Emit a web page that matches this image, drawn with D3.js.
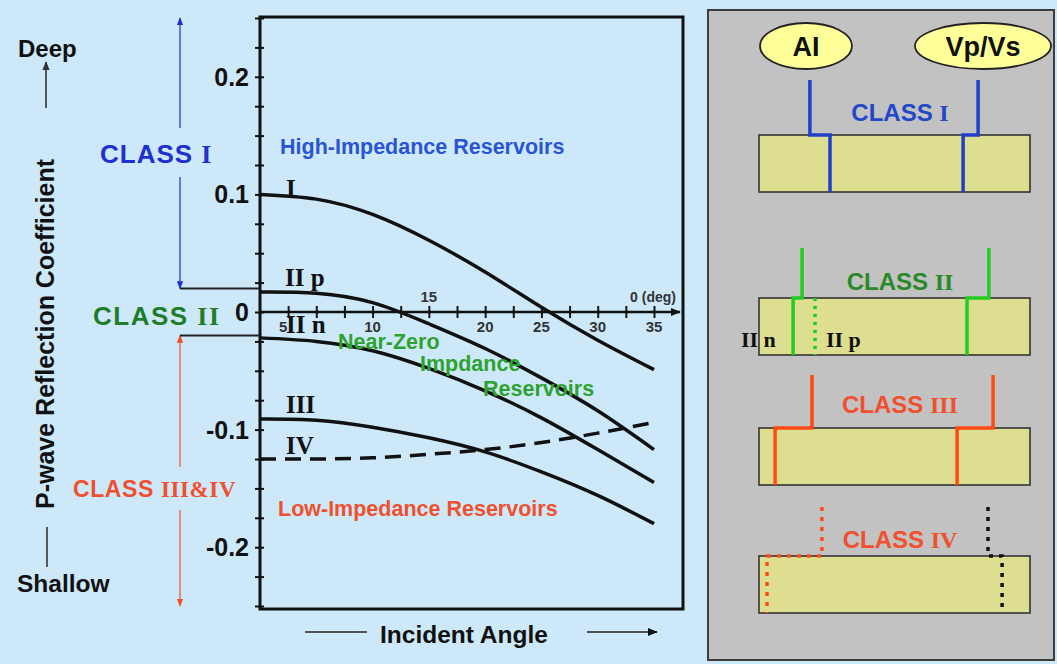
<!DOCTYPE html>
<html>
<head>
<meta charset="utf-8">
<script src="https://cdn.jsdelivr.net/npm/d3@7"></script>
<style>
  body { margin: 0; background: #cde9f9; }
  svg { display: block; }
</style>
</head>
<body>
<script>
const width = 1057, height = 664;

// incident angle (deg) and reflection coefficient per class
const angles = [0, 5, 10, 15, 20, 25, 30, 35];
const classI   = [0.100, 0.096, 0.083, 0.061, 0.034, 0.004, -0.024, -0.049];
const classIIp = [0.017, 0.016, 0.008, -0.010, -0.031, -0.056, -0.084, -0.117];
const classIIn = [-0.022, -0.025, -0.033, -0.048, -0.067, -0.090, -0.117, -0.145];
const classIII = [-0.091, -0.092, -0.098, -0.107, -0.119, -0.136, -0.156, -0.180];
const classIV  = [-0.125, -0.125, -0.124, -0.121, -0.117, -0.111, -0.103, -0.094];

const yTicks = d3.range(-0.25, 0.2501, 0.025);
const yLabels = [0.2, 0.1, 0, -0.1, -0.2];
const xTicks = d3.range(2.5, 35.01, 2.5);
const xLabels = [5, 10, 15, 20, 25, 30, 35];
const classBounds = [0.02, -0.02];

// right panel: log steps (top value, bottom value) for AI and Vp/Vs
const panelClasses = ["I", "II", "III", "IV"];
const aiSteps = [[-0.07, 0.6], [-0.33, -0.63], [0, -1.23], [0.33, -1.5]];
const vpSteps = [[-0.23, -0.73], [0.13, -0.6], [0.27, -0.93], [0.1, 0.57]];
const iipStep = 0.1;

const blue = "#1f2fd0", green = "#1f7d2a", orange = "#f0502e";
const sans = "'Liberation Sans', Arial, sans-serif";
const serif = "'Liberation Serif', 'Times New Roman', serif";

const svg = d3.select("body").append("svg")
  .attr("width", width)
  .attr("height", height);

svg.append("rect").attr("width", width).attr("height", height).attr("fill", "#cde9f9");

const defs = svg.append("defs");
function marker(id, color, size) {
  defs.append("marker")
    .attr("id", id)
    .attr("viewBox", "0 0 10 10")
    .attr("refX", 9).attr("refY", 5)
    .attr("markerWidth", size).attr("markerHeight", size)
    .attr("markerUnits", "userSpaceOnUse")
    .attr("orient", "auto-start-reverse")
    .append("path").attr("d", "M0,1 L10,5 L0,9 Z").attr("fill", color);
}
marker("arBlue", blue, 8);
marker("arRed", orange, 8);
marker("arBlack", "#111", 10);
marker("arGray", "#333", 9);

// ---------- left chart ----------
const x = d3.scaleLinear().domain([0, 35]).range([260, 654]);
const y = d3.scaleLinear().domain([-0.25, 0.25]).range([606, 18]);

const yAxis = d3.axisLeft(y).tickValues(yTicks).tickSize(5).tickFormat("");
const gy = svg.append("g").attr("transform", "translate(260,0)").call(yAxis);
gy.select(".domain").remove();
gy.selectAll("line").attr("x1", 4).attr("x2", -5).attr("stroke", "#111").attr("stroke-width", 2);

svg.append("g").selectAll("text")
  .data(yLabels)
  .join("text")
  .attr("x", 249)
  .attr("y", d => y(d) + 9)
  .attr("text-anchor", "end")
  .attr("font-family", sans).attr("font-weight", "bold").attr("font-size", 25)
  .attr("fill", "#111")
  .text(d => d === 0 ? "0" : d3.format(".1f")(d).replace("−", "-"));

// x axis through zero
const xAxis = d3.axisBottom(x).tickValues(xTicks).tickSize(6).tickFormat("");
const gx = svg.append("g").attr("transform", `translate(0,${y(0)})`).call(xAxis);
gx.select(".domain").remove();
gx.selectAll("line").attr("y1", -6).attr("y2", 6).attr("stroke", "#111").attr("stroke-width", 2);
svg.append("line")
  .attr("x1", x(0)).attr("x2", 680).attr("y1", y(0)).attr("y2", y(0))
  .attr("stroke", "#111").attr("stroke-width", 2.5).attr("marker-end", "url(#arBlack)");

svg.append("g").selectAll("text")
  .data(xLabels)
  .join("text")
  .attr("x", d => d === 5 ? x(d) - 29 : x(d))
  .attr("y", d => d === 15 ? y(0) - 10 : y(0) + 20)
  .attr("text-anchor", d => d === 5 ? "end" : "middle")
  .attr("font-family", sans).attr("font-weight", "bold").attr("font-size", 15)
  .attr("fill", "#333")
  .text(d => d);
svg.append("text").attr("x", 676).attr("y", y(0) - 10).attr("text-anchor", "end")
  .attr("font-family", sans).attr("font-weight", "bold").attr("font-size", 14)
  .attr("fill", "#333").text("0 (deg)");

// curves
const line = d3.line()
  .x((d, i) => x(angles[i]))
  .y(d => y(d))
  .curve(d3.curveNatural);

const curves = [
  { v: classI, dash: null },
  { v: classIIp, dash: null },
  { v: classIIn, dash: null },
  { v: classIII, dash: null },
  { v: classIV, dash: "16 9" }
];
svg.append("g").selectAll("path")
  .data(curves)
  .join("path")
  .attr("d", d => line(d.v))
  .attr("fill", "none")
  .attr("stroke", "#111")
  .attr("stroke-width", 3.5)
  .attr("stroke-dasharray", d => d.dash);

// frame
svg.append("rect")
  .attr("x", 260).attr("y", 17).attr("width", 423).attr("height", 592)
  .attr("fill", "none").attr("stroke", "#111").attr("stroke-width", 3);

// curve labels
const numerals = [
  { t: "I", x: 286, y: 197 },
  { t: "II p", x: 285, y: 286 },
  { t: "II n", x: 286, y: 333 },
  { t: "III", x: 286, y: 413 },
  { t: "IV", x: 286, y: 454 }
];
svg.append("g").selectAll("text")
  .data(numerals)
  .join("text")
  .attr("x", d => d.x).attr("y", d => d.y)
  .attr("font-family", serif).attr("font-weight", "bold").attr("font-size", 25)
  .attr("fill", "#111")
  .text(d => d.t);

function label(t, xx, yy, color, size) {
  return svg.append("text").attr("x", xx).attr("y", yy)
    .attr("font-family", sans).attr("font-weight", "bold").attr("font-size", size)
    .attr("fill", color).text(t);
}
label("High-Impedance Reservoirs", 280, 154, "#2a55d2", 21.5);
label("Near-Zero", 338, 348.5, "#2ea22e", 21.5);
label("Impdance", 420, 371, "#2ea22e", 21.5);
label("Reservoirs", 483, 396, "#2ea22e", 21.5);
label("Low-Impedance Reservoirs", 278, 516, "#f0502e", 21.5);
label("Incident Angle", 380, 643, "#111", 24.5);

svg.append("line").attr("x1", 305).attr("x2", 367).attr("y1", 632).attr("y2", 632)
  .attr("stroke", "#222").attr("stroke-width", 1.6);
svg.append("line").attr("x1", 587).attr("x2", 657).attr("y1", 632).attr("y2", 632)
  .attr("stroke", "#222").attr("stroke-width", 1.6).attr("marker-end", "url(#arBlack)");

// left margin: depth labels and axis title
label("Deep", 18, 57, "#111", 24);
svg.append("line").attr("x1", 46).attr("x2", 46).attr("y1", 108).attr("y2", 62)
  .attr("stroke", "#333").attr("stroke-width", 1.6).attr("marker-end", "url(#arGray)");
label("Shallow", 17, 592, "#111", 24.5);
svg.append("line").attr("x1", 47).attr("x2", 47).attr("y1", 527).attr("y2", 567)
  .attr("stroke", "#333").attr("stroke-width", 1.6);
svg.append("text")
  .attr("transform", "translate(54,334) rotate(-90)")
  .attr("text-anchor", "middle")
  .attr("font-family", sans).attr("font-weight", "bold").attr("font-size", 25)
  .attr("fill", "#111")
  .text("P-wave Reflection Coefficient");

// class ranges
svg.append("line").attr("x1", 180).attr("x2", 180).attr("y1", 128).attr("y2", y(0.25))
  .attr("stroke", blue).attr("stroke-width", 1.2).attr("marker-end", "url(#arBlue)");
svg.append("line").attr("x1", 180).attr("x2", 180).attr("y1", 177).attr("y2", y(classBounds[0]))
  .attr("stroke", blue).attr("stroke-width", 1.2).attr("marker-end", "url(#arBlue)");
svg.append("line").attr("x1", 180).attr("x2", 180).attr("y1", 467).attr("y2", y(classBounds[1]))
  .attr("stroke", orange).attr("stroke-width", 1.2).attr("marker-end", "url(#arRed)");
svg.append("line").attr("x1", 180).attr("x2", 180).attr("y1", 510).attr("y2", y(-0.25))
  .attr("stroke", orange).attr("stroke-width", 1.2).attr("marker-end", "url(#arRed)");
svg.append("g").selectAll("line")
  .data(classBounds)
  .join("line")
  .attr("x1", 180).attr("x2", 260)
  .attr("y1", d => y(d)).attr("y2", d => y(d))
  .attr("stroke", "#222").attr("stroke-width", 1.8);

function classLabel(xx, yy, num, color, size, anchor, spacing) {
  const t = svg.append("text").attr("x", xx).attr("y", yy)
    .attr("font-weight", "bold").attr("font-size", size).attr("fill", color)
    .attr("text-anchor", anchor || "start")
    .attr("letter-spacing", spacing || 0);
  t.append("tspan").attr("font-family", sans).text("CLASS ");
  t.append("tspan").attr("font-family", serif).text(num);
  return t;
}
classLabel(100, 163, "I", blue, 26, "start", 1);
classLabel(93, 325, "II", green, 26, "start", 1.5);
classLabel(73, 497, "III&IV", orange, 23, "start", 0.6);

// ---------- right panel ----------
svg.append("rect")
  .attr("x", 708).attr("y", 10).attr("width", 346).attr("height", 650)
  .attr("fill", "#c2c2c2").attr("stroke", "#3d3d3d").attr("stroke-width", 2);

const heads = [
  { t: "AI", cx: 806, rx: 46, size: 27 },
  { t: "Vp/Vs", cx: 983, rx: 68, size: 27 }
];
const gh = svg.append("g").selectAll("g").data(heads).join("g");
gh.append("ellipse")
  .attr("cx", d => d.cx).attr("cy", 46).attr("rx", d => d.rx).attr("ry", 23)
  .attr("fill", "#ffff99").attr("stroke", "#222").attr("stroke-width", 1.8);
gh.append("text")
  .attr("x", d => d.cx).attr("y", 56).attr("text-anchor", "middle")
  .attr("font-family", sans).attr("font-weight", "bold").attr("font-size", d => d.size)
  .attr("fill", "#111").text(d => d.t);

const shift = d3.scaleLinear().domain([-1, 1]).range([-30, 30]);
const aiX = 812, vpX = 985;
const rows = [
  { top: 135, logTop: 80, labY: 121, color: "#1f3fcc", dotted: false },
  { top: 298, logTop: 248, labY: 290, color: "#22cc22", dotted: false },
  { top: 428, logTop: 375, labY: 413, color: "#ff4a14", dotted: false },
  { top: 556, logTop: 507, labY: 548, color: "#ff4a14", dotted: true }
];
const labelColors = ["#2048c8", "#2a8a2a", "#f0502e", "#f0502e"];
const boxH = 57;

rows.forEach((r, i) => {
  svg.append("rect")
    .attr("x", 759).attr("y", r.top).attr("width", 271).attr("height", boxH)
    .attr("fill", "#dede90").attr("stroke", "#333").attr("stroke-width", 1.6);
  classLabel(900, r.labY, panelClasses[i], labelColors[i], 24, "middle");

  const step = (s, cx) => {
    const a = cx + shift(s[0]), b = cx + shift(s[1]);
    return `M${a},${r.logTop}V${r.top}H${b}V${r.top + boxH}`;
  };
  svg.append("path").attr("d", step(aiSteps[i], aiX))
    .attr("fill", "none").attr("stroke", r.color).attr("stroke-width", 3.5)
    .attr("stroke-dasharray", r.dotted ? "4 6" : null);
  svg.append("path").attr("d", step(vpSteps[i], vpX))
    .attr("fill", "none").attr("stroke", r.dotted ? "#111" : r.color).attr("stroke-width", 3.5)
    .attr("stroke-dasharray", r.dotted ? "4 6" : null);
});

// class II p alternative (dotted)
svg.append("line")
  .attr("x1", aiX + shift(iipStep)).attr("x2", aiX + shift(iipStep))
  .attr("y1", rows[1].top).attr("y2", rows[1].top + boxH)
  .attr("stroke", "#22cc22").attr("stroke-width", 3.5).attr("stroke-dasharray", "3 5");

svg.append("text").attr("x", 741).attr("y", 347)
  .attr("font-family", serif).attr("font-weight", "bold").attr("font-size", 22)
  .attr("fill", "#111").text("II n");
svg.append("text").attr("x", 826).attr("y", 347)
  .attr("font-family", serif).attr("font-weight", "bold").attr("font-size", 22)
  .attr("fill", "#111").text("II p");
</script>
</body>
</html>
